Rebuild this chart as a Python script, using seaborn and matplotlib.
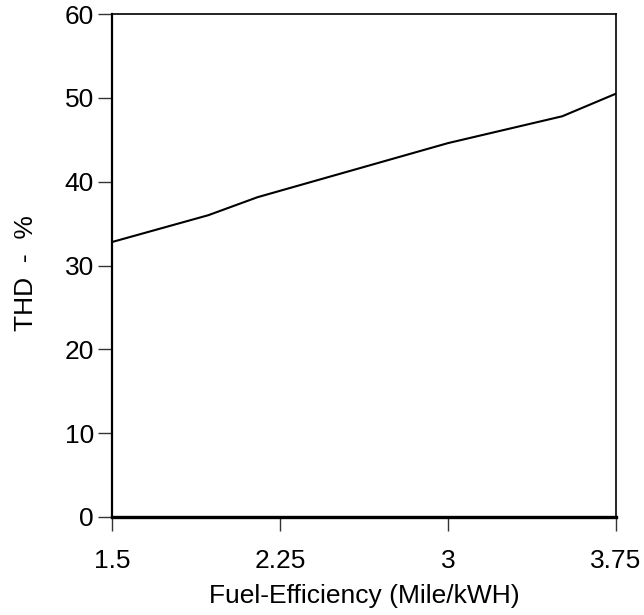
import matplotlib
matplotlib.use("Agg")
import matplotlib.pyplot as plt
import seaborn as sns
import pandas as pd

efficiency = [1.5, 1.93, 2.15, 3.0, 3.51, 3.75]
thd = [32.8, 36.0, 38.15, 44.6, 47.8, 50.5]
x_ticks = [1.5, 2.25, 3.0, 3.75]
x_tick_labels = ["1.5", "2.25", "3", "3.75"]
y_ticks = [0, 10, 20, 30, 40, 50, 60]

sns.set_theme(style="white")
plt.rcParams['font.family'] = ['Liberation Sans', 'DejaVu Sans']

df = pd.DataFrame({"x": efficiency, "y": thd})
fig = plt.figure(figsize=(6.44, 6.15), dpi=100)
ax = fig.add_axes([112/644, 1 - 517/615, 504/644, 503/615])
sns.lineplot(data=df, x="x", y="y", ax=ax, color="black", linewidth=1.5)
ax.set_xlim(1.5, 3.75)
ax.set_ylim(0, 60)
ax.set_xticks(x_ticks)
ax.set_xticklabels(x_tick_labels)
ax.set_yticks(y_ticks)
ax.tick_params(axis="both", which="major", direction="out", length=10, width=1,
               color="#333333", labelsize=19, labelcolor="black", pad=3, left=True, bottom=True)
ax.tick_params(axis="x", pad=13)
for side, lw in [("left", 1.6), ("bottom", 2.4), ("right", 1.2), ("top", 1.2)]:
    ax.spines[side].set_visible(True)
    ax.spines[side].set_color("black")
    ax.spines[side].set_linewidth(lw)
ax.set_xlabel("Fuel-Efficiency (Mile/kWH)", fontsize=19, labelpad=8, color="black")
ax.set_ylabel("THD  -  %", fontsize=19, labelpad=19, color="black")
ax.yaxis.label.set_y(0.485)
fig.savefig("out.png", dpi=100)
